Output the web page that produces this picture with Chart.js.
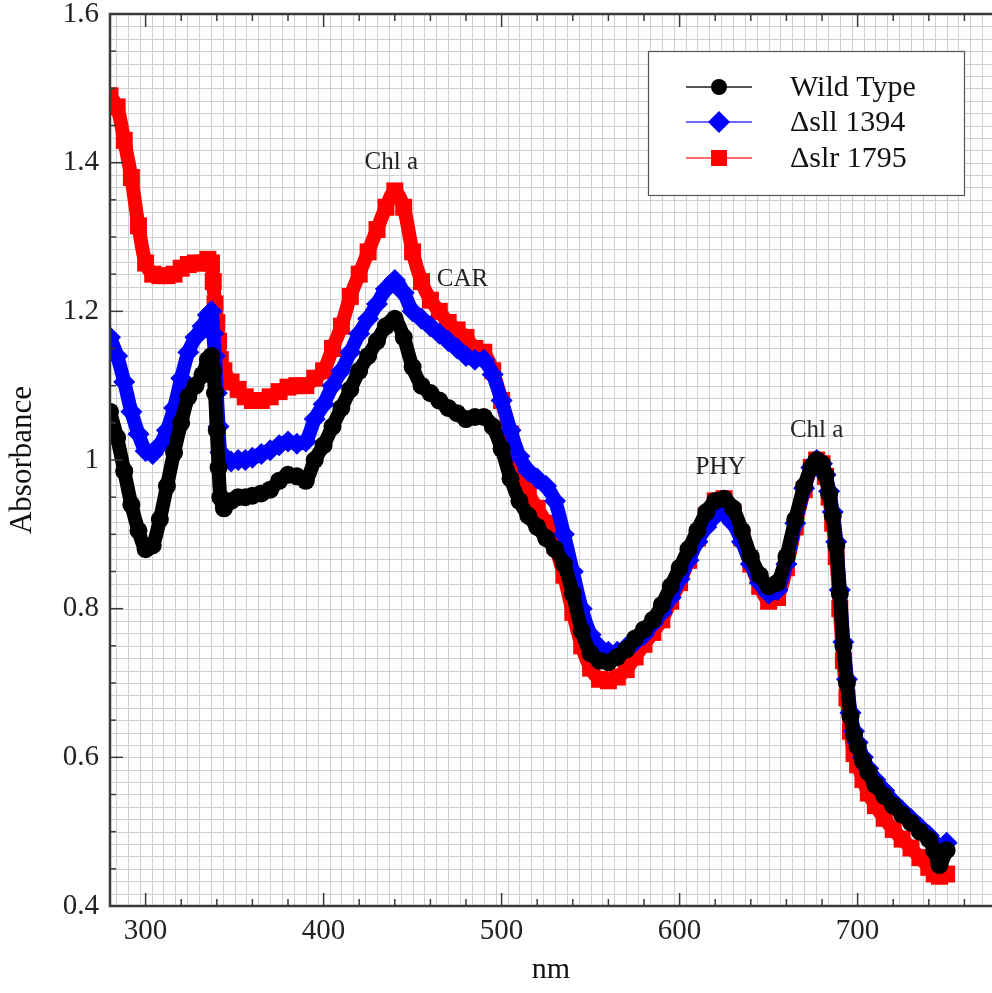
<!DOCTYPE html>
<html><head><meta charset="utf-8">
<script src="https://cdn.jsdelivr.net/npm/chart.js@4.4.1/dist/chart.umd.min.js"></script>
<style>html,body{margin:0;padding:0;background:#fff;overflow:hidden}#wrap{width:992px;height:993px;position:relative}canvas{display:block;width:992px;height:993px}</style>
</head><body><div id="wrap"><canvas id="c" width="992" height="993"></canvas></div>
<script>
const wavelengths = [280,284,288,292,296,300,304,308,312,316,320,324,328,332,335,337,338,339,340,341,342,344,348,352,356,360,365,370,375,380,385,390,395,400,405,410,415,420,425,430,435,440,445,450,455,460,465,470,475,480,485,490,495,500,505,510,515,520,525,530,535,540,545,550,555,560,565,570,575,580,585,590,595,600,605,610,615,620,625,630,635,640,645,650,655,660,665,670,674,677,680,682,684,686,688,690,692,694,696,698,700,703,706,710,715,720,725,730,735,740,743,746,750];
const wildType = [1.065,1.03,0.985,0.94,0.905,0.88,0.885,0.92,0.965,1.01,1.05,1.085,1.10,1.115,1.135,1.14,1.12,1.09,1.04,0.99,0.95,0.935,0.945,0.95,0.95,0.952,0.955,0.96,0.972,0.98,0.978,0.972,1.0,1.02,1.045,1.07,1.095,1.12,1.14,1.16,1.18,1.19,1.165,1.125,1.1,1.09,1.08,1.07,1.063,1.055,1.058,1.058,1.045,1.015,0.975,0.945,0.925,0.91,0.895,0.88,0.86,0.82,0.77,0.74,0.73,0.728,0.735,0.745,0.76,0.772,0.785,0.805,0.83,0.855,0.88,0.905,0.93,0.945,0.948,0.935,0.905,0.87,0.845,0.83,0.835,0.87,0.92,0.965,0.99,1.0,0.995,0.98,0.955,0.925,0.885,0.82,0.75,0.70,0.655,0.63,0.615,0.595,0.58,0.563,0.548,0.535,0.523,0.512,0.5,0.49,0.475,0.455,0.475];
const sll1394 = [1.165,1.14,1.105,1.065,1.035,1.012,1.008,1.02,1.04,1.07,1.11,1.145,1.165,1.18,1.195,1.2,1.17,1.14,1.09,1.045,1.01,1.0,0.998,1.0,1.0,1.003,1.008,1.013,1.02,1.025,1.022,1.025,1.055,1.075,1.1,1.12,1.145,1.17,1.19,1.21,1.23,1.242,1.225,1.2,1.19,1.18,1.17,1.16,1.15,1.14,1.135,1.135,1.115,1.08,1.04,1.005,0.985,0.975,0.965,0.945,0.9,0.85,0.8,0.765,0.748,0.742,0.742,0.748,0.755,0.765,0.78,0.795,0.815,0.84,0.865,0.89,0.91,0.925,0.928,0.915,0.89,0.86,0.835,0.82,0.825,0.86,0.915,0.962,0.99,1.0,0.995,0.98,0.958,0.93,0.89,0.825,0.755,0.705,0.66,0.635,0.62,0.6,0.585,0.57,0.555,0.54,0.528,0.517,0.506,0.495,0.485,0.47,0.485];
const slr1795 = [1.49,1.475,1.43,1.38,1.315,1.265,1.25,1.248,1.248,1.25,1.258,1.263,1.265,1.265,1.27,1.265,1.24,1.21,1.185,1.16,1.135,1.12,1.105,1.095,1.085,1.08,1.08,1.085,1.092,1.098,1.1,1.1,1.11,1.12,1.15,1.18,1.22,1.25,1.28,1.31,1.34,1.362,1.34,1.28,1.24,1.215,1.2,1.185,1.175,1.165,1.15,1.145,1.12,1.08,1.035,0.985,0.955,0.935,0.915,0.885,0.845,0.795,0.75,0.72,0.705,0.703,0.708,0.718,0.735,0.752,0.768,0.785,0.81,0.835,0.865,0.895,0.925,0.945,0.948,0.93,0.895,0.86,0.83,0.81,0.815,0.855,0.91,0.96,0.99,1.0,0.995,0.978,0.95,0.915,0.87,0.8,0.73,0.68,0.635,0.605,0.59,0.57,0.552,0.535,0.518,0.503,0.49,0.478,0.465,0.452,0.443,0.44,0.443];
const seriesNames = ['Wild Type', '\u0394sll 1394', '\u0394slr 1795'];
const xTickValues = [300, 400, 500, 600, 700];
const yTickValues = [0.4, 0.6, 0.8, 1.0, 1.2, 1.4, 1.6];
const annotationLabels = ['Chl a', 'CAR', 'PHY', 'Chl a'];
const annotationX = [438, 478, 623, 677];
const annotationY = [1.4, 1.243, 0.99, 1.04];

const SERIF = '"Liberation Serif", "Times New Roman", serif';
const X_MIN = 280, X_MAX = 775.5, Y_MIN = 0.4, Y_MAX = 1.6;

function pts(vals) { return wavelengths.map((x, i) => ({x: x, y: vals[i]})); }
function noPad(s) { s.paddingTop = 0; s.paddingBottom = 0; s.paddingLeft = 0; s.paddingRight = 0; }

const frame = {
  id: 'frame',
  beforeDatasetsDraw(chart) {
    const ctx = chart.ctx, a = chart.chartArea, xs = chart.scales.x, ys = chart.scales.y;
    ctx.save();
    ctx.beginPath(); ctx.rect(a.left, a.top, a.right - a.left, a.bottom - a.top); ctx.clip();
    ctx.strokeStyle = '#d0d0d0'; ctx.lineWidth = 1;
    for (let v = X_MIN + 10 / 3; v < X_MAX; v += 20 / 3) {
      const p = Math.round(xs.getPixelForValue(v)) + 0.5;
      ctx.beginPath(); ctx.moveTo(p, a.top); ctx.lineTo(p, a.bottom); ctx.stroke();
    }
    for (let v = Y_MIN; v < Y_MAX + 1e-9; v += 0.05 / 3) {
      const p = Math.round(ys.getPixelForValue(v)) + 0.5;
      ctx.beginPath(); ctx.moveTo(a.left, p); ctx.lineTo(a.right, p); ctx.stroke();
    }
    ctx.restore();
  },
  afterDatasetsDraw(chart) {
    const ctx = chart.ctx, a = chart.chartArea, xs = chart.scales.x, ys = chart.scales.y;
    ctx.save();
    // axes
    ctx.strokeStyle = '#3a3a3a'; ctx.lineWidth = 2.5;
    ctx.beginPath();
    ctx.moveTo(a.right, a.top); ctx.lineTo(a.left, a.top); ctx.lineTo(a.left, a.bottom); ctx.lineTo(a.right, a.bottom);
    ctx.stroke();
    ctx.lineWidth = 1.5;
    for (let v = 300; v < X_MAX; v += 20) {
      const p = xs.getPixelForValue(v);
      const len = (v % 100 === 0) ? 13 : 7;
      ctx.beginPath(); ctx.moveTo(p, a.bottom); ctx.lineTo(p, a.bottom - len); ctx.stroke();
      ctx.beginPath(); ctx.moveTo(p, a.top); ctx.lineTo(p, a.top + len); ctx.stroke();
    }
    for (let k = 1; k < 24; k++) {
      const v = Y_MIN + k * 0.05;
      const p = ys.getPixelForValue(v);
      const len = (k % 4 === 0) ? 13 : 6;
      ctx.beginPath(); ctx.moveTo(a.left, p); ctx.lineTo(a.left + len, p); ctx.stroke();
    }
    // annotations
    ctx.fillStyle = '#222'; ctx.font = '25px ' + SERIF; ctx.textAlign = 'center'; ctx.textBaseline = 'middle';
    annotationLabels.forEach((t, i) => {
      ctx.fillText(t, xs.getPixelForValue(annotationX[i]), ys.getPixelForValue(annotationY[i]));
    });
    // legend
    const bx = 648.5, by = 51.5, bw = 316, bh = 144;
    ctx.fillStyle = '#fff'; ctx.fillRect(bx, by, bw, bh);
    ctx.strokeStyle = '#555'; ctx.lineWidth = 1.2; ctx.strokeRect(bx, by, bw, bh);
    const rows = [87, 122, 158];
    const lineCols = ['#555555', '#6a6aff', '#ff6a6a'];
    chart.data.datasets.forEach((ds, i) => {
      const y = rows[i];
      ctx.strokeStyle = lineCols[i]; ctx.lineWidth = 2;
      ctx.beginPath(); ctx.moveTo(686, y); ctx.lineTo(752, y); ctx.stroke();
      ctx.fillStyle = ds.backgroundColor;
      ctx.beginPath();
      if (i === 0) { ctx.arc(719, y, 8, 0, Math.PI * 2); }
      else if (i === 1) { ctx.moveTo(719, y - 11); ctx.lineTo(730, y); ctx.lineTo(719, y + 11); ctx.lineTo(708, y); ctx.closePath(); }
      else { ctx.rect(711, y - 8, 16, 16); }
      ctx.fill();
      ctx.fillStyle = '#111'; ctx.font = '30px ' + SERIF; ctx.textAlign = 'left'; ctx.textBaseline = 'middle';
      ctx.fillText(ds.label, 790, y + 1);
    });
    ctx.restore();
  }
};

new Chart(document.getElementById('c'), {
  type: 'line',
  data: {
    datasets: [
      {label: seriesNames[0], data: pts(wildType), borderColor: '#000000', backgroundColor: '#000000', borderWidth: 14, pointStyle: 'circle', pointRadius: 9, pointBorderWidth: 0, tension: 0.3},
      {label: seriesNames[1], data: pts(sll1394), borderColor: '#0000ff', backgroundColor: '#0000ff', borderWidth: 14, pointStyle: 'rectRot', pointRadius: 11, pointBorderWidth: 0, tension: 0.3},
      {label: seriesNames[2], data: pts(slr1795), borderColor: '#ff0000', backgroundColor: '#ff0000', borderWidth: 14, pointStyle: 'rect', pointRadius: 12, pointBorderWidth: 0, tension: 0.3}
    ]
  },
  options: {
    responsive: false, animation: false, devicePixelRatio: 1,
    layout: {autoPadding: false, padding: {top: 14, right: 0, left: 0, bottom: 0}},
    elements: {line: {borderJoinStyle: 'round', borderCapStyle: 'round'}},
    plugins: {legend: {display: false}, tooltip: {enabled: false}},
    scales: {
      x: {
        type: 'linear', min: X_MIN, max: X_MAX,
        grid: {display: false, drawTicks: false}, border: {display: false},
        afterBuildTicks: s => { s.ticks = xTickValues.map(v => ({value: v})); },
        afterFit: s => { s.height = 87; noPad(s); },
        ticks: {color: '#222', padding: 11, font: {family: SERIF, size: 29, lineHeight: 1}, maxRotation: 0, callback: v => String(v)},
        title: {display: true, text: 'nm', color: '#111', font: {family: SERIF, size: 30, lineHeight: 1.2}, padding: {top: 0, bottom: 5}}
      },
      y: {
        type: 'linear', min: Y_MIN, max: Y_MAX,
        grid: {display: false, drawTicks: false}, border: {display: false},
        afterBuildTicks: s => { s.ticks = yTickValues.map(v => ({value: v})); },
        afterFit: s => { s.width = 110; noPad(s); },
        ticks: {color: '#222', padding: 11, font: {family: SERIF, size: 29, lineHeight: 0.9}, callback: v => String(parseFloat(Number(v).toFixed(2)))},
        title: {display: true, text: 'Absorbance', color: '#111', font: {family: SERIF, size: 31, lineHeight: 1.2}, padding: {top: 4, bottom: 0}}
      }
    }
  },
  plugins: [frame]
});
</script>
</body></html>
